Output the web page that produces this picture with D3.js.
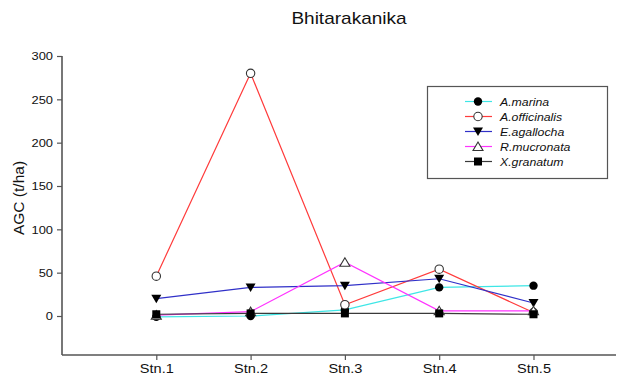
<!DOCTYPE html>
<html>
<head>
<meta charset="utf-8">
<script src="https://cdn.jsdelivr.net/npm/d3@7"></script>
<style>
  html, body { margin: 0; padding: 0; background: #fff; }
  svg { display: block; font-family: "Liberation Sans", Arial, sans-serif; }
</style>
</head>
<body>
<svg id="chart" width="624" height="376"></svg>
<script>
// Stations along the transect
const stations = ["Stn.1", "Stn.2", "Stn.3", "Stn.4", "Stn.5"];

// Above-ground carbon (t/ha) per species at each station
const aMarina      = [-1, 0, 7, 33, 35];
const aOfficinalis = [46, 280, 13, 54, 4];
const eAgallocha   = [20, 33, 35, 43, 15];
const rMucronata   = [1, 5, 62, 6, 6];
const xGranatum    = [2, 3, 3, 3, 2];

const speciesNames  = ["A.marina", "A.officinalis", "E.agallocha", "R.mucronata", "X.granatum"];
const speciesColors = ["#3ee6e6", "#ff3b3b", "#3030c8", "#ff33ff", "#3a3a3a"];
const speciesSymbols = ["filledCircle", "openCircle", "filledTriDown", "openTriUp", "filledSquare"];

const yTicks = [0, 50, 100, 150, 200, 250, 300];

const series = speciesNames.map((name, i) => ({
  name,
  color: speciesColors[i],
  symbol: speciesSymbols[i],
  values: [aMarina, aOfficinalis, eAgallocha, rMucronata, xGranatum][i]
}));

const svg = d3.select("#chart");
const plotLeft = 62, plotRight = 616, plotTop = 56, plotBottom = 355;
const stretch = 1.12; // text is drawn slightly wide

// Stations sit at 1..5 on a continuous axis that runs a little past the last one
const x = d3.scaleLinear().domain([0, 5.875]).range([plotLeft, plotRight]);
const y = d3.scaleLinear().domain([-45, 300]).range([plotBottom, plotTop]);

// Title
svg.append("g")
  .attr("transform", `translate(349,24) scale(${stretch},1)`)
  .append("text")
  .attr("text-anchor", "middle")
  .attr("font-size", 17)
  .attr("fill", "#111")
  .text("Bhitarakanika");

// Y axis
const yAxis = svg.append("g")
  .attr("transform", `translate(${plotLeft},0)`)
  .call(d3.axisLeft(y).tickValues(yTicks).tickSize(5).tickPadding(4).tickSizeOuter(0));
yAxis.select(".domain").attr("stroke", "#555").attr("stroke-width", 1.6)
  .attr("d", `M0,${plotTop}V${plotBottom}`);
yAxis.selectAll(".tick line").attr("stroke", "#555").attr("stroke-width", 1.2);
yAxis.selectAll(".tick text")
  .attr("font-size", 11.5).attr("fill", "#111")
  .attr("font-family", "Liberation Sans, Arial, sans-serif")
  .attr("x", -9 / stretch)
  .attr("transform", `scale(${stretch},1)`);

// X axis
const xAxis = svg.append("g")
  .attr("transform", `translate(0,${plotBottom})`)
  .call(d3.axisBottom(x).tickValues([1, 2, 3, 4, 5])
    .tickFormat(d => stations[d - 1]).tickSize(5).tickPadding(4).tickSizeOuter(0));
xAxis.select(".domain").attr("stroke", "#555").attr("stroke-width", 1.6)
  .attr("d", `M${plotLeft},0H${plotRight}`);
xAxis.selectAll(".tick line").attr("stroke", "#555").attr("stroke-width", 1.2);
xAxis.selectAll(".tick text")
  .attr("font-size", 13).attr("fill", "#111")
  .attr("font-family", "Liberation Sans, Arial, sans-serif")
  .attr("transform", `scale(${stretch},1)`);

// Y axis title
svg.append("text")
  .attr("transform", `translate(24,198) rotate(-90)`)
  .attr("text-anchor", "middle")
  .attr("font-size", 15.5)
  .attr("fill", "#111")
  .text("AGC (t/ha)");

// Marker drawing helper
function drawMarker(g, symbol, cx, cy) {
  const r = 4.2;
  if (symbol === "filledCircle") {
    g.append("circle").attr("cx", cx).attr("cy", cy).attr("r", r).attr("fill", "#000");
  } else if (symbol === "openCircle") {
    g.append("circle").attr("cx", cx).attr("cy", cy).attr("r", r)
      .attr("fill", "#fff").attr("stroke", "#333").attr("stroke-width", 1.1);
  } else if (symbol === "filledTriDown") {
    g.append("path").attr("d", `M${cx - 5},${cy - 4}L${cx + 5},${cy - 4}L${cx},${cy + 4.5}Z`)
      .attr("fill", "#000");
  } else if (symbol === "openTriUp") {
    g.append("path").attr("d", `M${cx - 5},${cy + 4}L${cx + 5},${cy + 4}L${cx},${cy - 4.5}Z`)
      .attr("fill", "#fff").attr("stroke", "#333").attr("stroke-width", 1.1);
  } else if (symbol === "filledSquare") {
    g.append("rect").attr("x", cx - 4).attr("y", cy - 4).attr("width", 8).attr("height", 8)
      .attr("fill", "#000");
  }
}

const line = d3.line().x((d, i) => x(i + 1)).y(d => y(d));

// Lines first, then markers
const plot = svg.append("g");
series.forEach(s => {
  plot.append("path")
    .datum(s.values)
    .attr("d", line)
    .attr("fill", "none")
    .attr("stroke", s.color)
    .attr("stroke-width", 1.2);
});
series.forEach(s => {
  const g = plot.append("g");
  s.values.forEach((v, i) => drawMarker(g, s.symbol, x(i + 1), y(v)));
});

// Legend
const legend = svg.append("g");
legend.append("rect")
  .attr("x", 427.5).attr("y", 86.5).attr("width", 180).attr("height", 92)
  .attr("fill", "#fff").attr("stroke", "#555").attr("stroke-width", 1.2);
series.forEach((s, i) => {
  const ly = 101.5 + i * 15;
  legend.append("line")
    .attr("x1", 465).attr("x2", 492).attr("y1", ly).attr("y2", ly)
    .attr("stroke", s.color).attr("stroke-width", 1.2);
  drawMarker(legend, s.symbol, 478, ly);
  legend.append("g")
    .attr("transform", `translate(500,${ly + 4}) scale(${stretch},1)`)
    .append("text")
    .attr("font-size", 11)
    .attr("font-style", "italic")
    .attr("fill", "#111")
    .text(s.name);
});
</script>
</body>
</html>
